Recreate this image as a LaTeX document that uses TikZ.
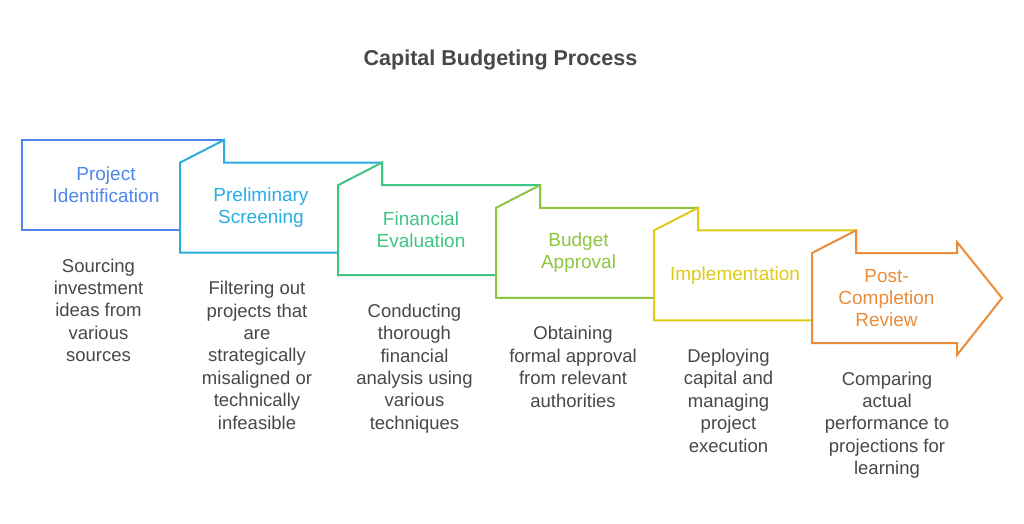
\documentclass[tikz,border=0pt]{standalone}
\usepackage{fontspec}
\setmainfont{Liberation Sans}
\definecolor{cA}{HTML}{4F86EC}
\definecolor{cB}{HTML}{2BADE1}
\definecolor{cC}{HTML}{3DC582}
\definecolor{cD}{HTML}{8DC63F}
\definecolor{cE}{HTML}{E0CB14}
\definecolor{cF}{HTML}{EB8C3A}
\definecolor{txt}{HTML}{484848}
\tikzset{
  boxline/.style={line width=2pt, fill=white, line join=miter},
  lbl/.style={align=center, inner sep=0pt, font=\fontsize{19}{22}\selectfont},
  desc/.style={align=center, inner sep=0pt, anchor=base, text=txt, font=\fontsize{18.5}{22.4}\selectfont},
}
\begin{document}
\begin{tikzpicture}[x=1pt,y=-1pt]
\useasboundingbox (0,0) rectangle (1024,523);
\fill[white] (0,0) rectangle (1024,523);
\node[font=\bfseries\fontsize{21.5}{26}\selectfont, text=txt, inner sep=0pt] (title) at (500.5,60) {Capital Budgeting Process};
% box 1
\draw[boxline, draw=cA] (22,140) rectangle (224,230);
% box 2
\draw[boxline, draw=cB] (180,162.6) -- (224,140) -- (224,162.6) -- (382,162.6) -- (382,252.6) -- (180,252.6) -- cycle;
% box 3
\draw[boxline, draw=cC] (338,185.2) -- (382,162.6) -- (382,185.2) -- (540,185.2) -- (540,275.2) -- (338,275.2) -- cycle;
% box 4
\draw[boxline, draw=cD] (496,207.8) -- (540,185.2) -- (540,207.8) -- (698,207.8) -- (698,297.8) -- (496,297.8) -- cycle;
% box 5
\draw[boxline, draw=cE] (654,230.4) -- (698,207.8) -- (698,230.4) -- (856,230.4) -- (856,320.4) -- (654,320.4) -- cycle;
% box 6 arrow
\draw[boxline, draw=cF] (812,253) -- (856,230.4) -- (856,253) -- (957,253) -- (957,242) -- (1002,298) -- (957,355) -- (957,343) -- (812,343) -- cycle;
% labels
\node[lbl, text=cA] (l1) at (106,185) {Project\\Identification};
\node[lbl, text=cB] (l2) at (261,207.6) {Preliminary\\Screening};
\node[lbl, text=cC] (l3) at (421,230.2) {Financial\\Evaluation};
\node[lbl, text=cD] (l4) at (578.5,252.8) {Budget\\Approval};
\node[lbl, text=cE] (l5) at (735,275.4) {Implementation};
\node[lbl, text=cF] (l6) at (886.5,298) {Post-\\Completion\\Review};
% descriptions (anchor = baseline of last line)
\node[desc] (d1) at (98.5,361.6) {Sourcing\\investment\\ideas from\\various\\sources};
\node[desc] (d2) at (257,429) {Filtering out\\projects that\\are\\strategically\\misaligned or\\technically\\infeasible};
\node[desc] (d3) at (414.5,429.2) {Conducting\\thorough\\financial\\analysis using\\various\\techniques};
\node[desc] (d4) at (573,407) {Obtaining\\formal approval\\from relevant\\authorities};
\node[desc] (d5) at (728.5,452) {Deploying\\capital and\\managing\\project\\execution};
\node[desc] (d6) at (887,474.6) {Comparing\\actual\\performance to\\projections for\\learning};
\end{tikzpicture}
\end{document}
